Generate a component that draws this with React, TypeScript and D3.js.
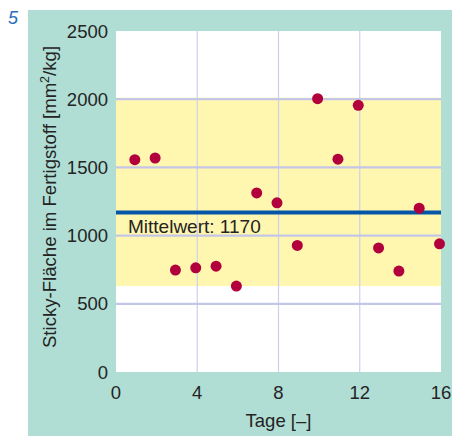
import React from "react";
import * as d3 from "d3";

const days = [1, 2, 3, 4, 5, 6, 7, 8, 9, 10, 11, 12, 13, 14, 15, 16];
const stickyArea = [1557, 1569, 747, 764, 776, 630, 1313, 1240, 928, 2004, 1560, 1955, 910, 740, 1201, 940];
const meanValue = 1170;
const xTicks = [0, 4, 8, 12, 16];
const yTicks = [0, 500, 1000, 1500, 2000, 2500];

const W = 452;
const H = 436;
const FONT = "'Liberation Sans', Arial, sans-serif";

export default function App() {
  const x = d3.scaleLinear().domain([0, 16]).range([116, 441]);
  const y = d3.scaleLinear().domain([0, 2500]).range([372, 31]);
  const [minV, maxV] = d3.extent(stickyArea) as [number, number];

  return (
    <svg width={W} height={H} style={{ position: "absolute", left: 0, top: 0 }}>
      <rect x={28} y={10} width={W - 28} height={H - 10} fill="#b0ded4" />
      <text x={8} y={24} fill="#2a6fba" fontSize={18} fontStyle="italic" fontFamily={FONT}>5</text>
      <rect x={x(0)} y={y(2500)} width={x(16) - x(0)} height={y(0) - y(2500)} fill="#ffffff" />
      <rect x={x(0)} y={y(maxV) - 1} width={x(16) - x(0)} height={y(minV) - y(maxV) + 1} fill="#fff6b0" />
      {xTicks.slice(1, -1).map((t) => (
        <line key={"vx" + t} x1={x(t)} x2={x(t)} y1={y(2500)} y2={y(0)} stroke="#cdd0ea" strokeWidth={1.2} />
      ))}
      {yTicks.slice(1, -1).map((t) => (
        <line key={"hy" + t} x1={x(0)} x2={x(16)} y1={y(t)} y2={y(t)} stroke="#c3c6e6" strokeWidth={2.2} />
      ))}
      <line x1={x(0)} x2={x(16)} y1={y(meanValue)} y2={y(meanValue)} stroke="#0556a6" strokeWidth={4} />
      <text x={128} y={233} fill="#242424" fontSize={19} fontFamily={FONT}>{`Mittelwert: ${meanValue}`}</text>
      {days.map((d, i) => (
        <circle key={"p" + d} cx={x(d) - 1.5} cy={y(stickyArea[i])} r={5.5} fill="#b2003c" />
      ))}
      {yTicks.map((t) => (
        <text key={"yl" + t} x={108} y={y(t)} dy="0.36em" textAnchor="end" fill="#242424" fontSize={18.5} fontFamily={FONT}>{t}</text>
      ))}
      {xTicks.map((t) => (
        <text key={"xl" + t} x={x(t)} y={399} textAnchor="middle" fill="#242424" fontSize={18.5} fontFamily={FONT}>{t}</text>
      ))}
      <text x={278.5} y={427} textAnchor="middle" fill="#242424" fontSize={18.5} fontFamily={FONT}>Tage [–]</text>
      <text transform="translate(56,197) rotate(-90)" textAnchor="middle" fill="#242424" fontSize={18.6} fontFamily={FONT}>
        Sticky-Fläche im Fertigstoff [mm<tspan dy="-7" fontSize={12.5}>2</tspan><tspan dy="7">/kg]</tspan>
      </text>
    </svg>
  );
}
